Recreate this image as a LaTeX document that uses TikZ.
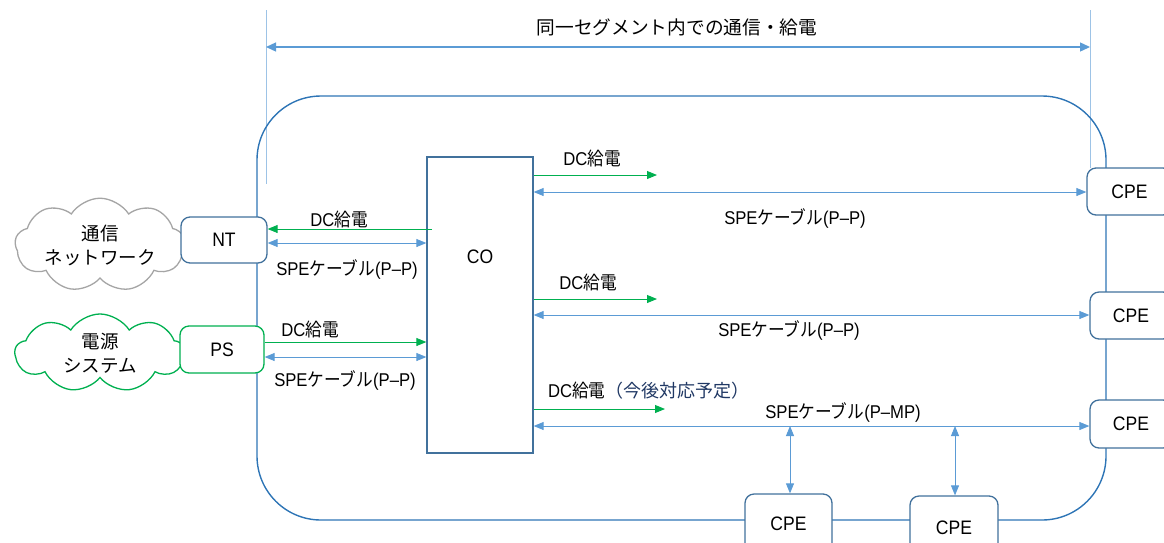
\documentclass[tikz,border=0pt]{standalone}
\usepackage{fontspec}
\setmainfont{Liberation Sans}[FakeStretch=0.9]
\newfontfamily\jpf{Noto Sans CJK JP}[FakeStretch=0.9]
\newfontfamily\jpw{Noto Sans CJK JP}
\newcommand{\J}[1]{{\jpf #1}}
\usetikzlibrary{arrows.meta,shapes.symbols}
\definecolor{bluearr}{HTML}{5B9BD5}
\definecolor{greenarr}{HTML}{00B050}
\definecolor{bigrect}{HTML}{2E75B6}
\definecolor{boxc}{HTML}{41719C}
\definecolor{cloudgray}{HTML}{A5A5A5}
\definecolor{guide}{HTML}{9DC3E6}
\definecolor{navy}{HTML}{203864}
\tikzset{
  lbl/.style={font=\fontsize{18.5}{22}\selectfont, inner sep=0pt},
  devbox/.style={draw=boxc, line width=1.3pt, fill=white, rounded corners=9pt, font=\fontsize{19.5}{22}\selectfont, inner sep=0pt},
  spe/.style={draw=bluearr, line width=0.9pt, {Triangle[length=10pt,width=8pt]}-{Triangle[length=10pt,width=8pt]}},
  dc/.style={draw=greenarr, line width=0.9pt, -{Triangle[length=10pt,width=8pt]}},
  cloudnode/.style={cloud, cloud puffs=9, cloud puff arc=115, aspect=2.3, fill=white, line width=1.3pt, align=center, font=\jpw\fontsize{18.5}{24}\selectfont, minimum width=170pt, minimum height=76pt, inner sep=0pt}
}
\begin{document}
\begin{tikzpicture}[x=1pt,y=-1pt]
\useasboundingbox (0,0) rectangle (1164,542);
\clip (0,0) rectangle (1164,542);
% guide lines and dimension arrow
\coordinate (gL1) at (266,10);
\coordinate (gL2) at (266,184);
\coordinate (gR1) at (1090,10);
\coordinate (gR2) at (1090,168);
\draw[guide, line width=0.6pt] (gL1) -- (gL2);
\draw[guide, line width=0.6pt] (gR1) -- (gR2);
\coordinate (dimL) at (266,47);
\coordinate (dimR) at (1090,47);
\draw[draw=bluearr, line width=1.3pt, {Triangle[length=10pt,width=9pt]}-{Triangle[length=10pt,width=9pt]}] (dimL) -- (dimR);
\node[font=\jpw\fontsize{18.7}{22}\selectfont, inner sep=0pt] (title) at (677,27) {同一セグメント内での通信・給電};
% big rounded rectangle
\draw[draw=bigrect, line width=1.4pt, rounded corners=64pt] (257,96) rectangle (1106,520);
% clouds
\node[cloudnode, draw=cloudgray] (cloudNT) at (100,245) {通信\\ネットワーク};
\node[cloudnode, draw=greenarr] (cloudPS) at (100,353) {電源\\システム};
% boxes
\node[devbox, minimum width=86pt, minimum height=46pt] (NT) at (224,240) {NT};
\node[devbox, draw=greenarr, minimum width=84pt, minimum height=47pt] (PS) at (222,349.5) {PS};
\node[draw=boxc, line width=1.3pt, fill=white, minimum width=106pt, minimum height=296pt, inner sep=0pt] (CO) at (480,305) {};
\node[font=\fontsize{19.5}{22}\selectfont, inner sep=0pt] (COlabel) at (480,257) {CO};
\node[devbox, minimum width=85pt, minimum height=47pt] (CPE1) at (1129.5,191.5) {CPE};
\node[devbox, minimum width=82pt, minimum height=47pt] (CPE2) at (1131,315.5) {CPE};
\node[devbox, minimum width=82pt, minimum height=48pt] (CPE3) at (1131,424) {CPE};
\node[devbox, minimum width=87pt, minimum height=60pt] (CPE4) at (788.5,524) {CPE};
\node[devbox, minimum width=88pt, minimum height=64pt] (CPE5) at (954,528) {CPE};
% left side connectors
\coordinate (dcNTs) at (432,229);
\draw[dc] (dcNTs) -- (NT.east |- dcNTs);
\draw[spe] (NT.east |- 0,243) -- (CO.west |- 0,243);
\draw[dc] (PS.east |- 0,342) -- (CO.west |- 0,342);
\draw[spe] (PS.east |- 0,357) -- (CO.west |- 0,357);
\node[lbl] (l1) at (339,219) {DC\J{給電}};
\node[lbl] (l2) at (347,269) {SPE\J{ケーブル}(P–P)};
\node[lbl] (l3) at (310,329) {DC\J{給電}};
\node[lbl] (l4) at (345,380) {SPE\J{ケーブル}(P–P)};
% right side connectors
\coordinate (dc1e) at (657,175);
\coordinate (dc2e) at (657,299);
\coordinate (dc3e) at (665,409);
\draw[dc] (CO.east |- dc1e) -- (dc1e);
\draw[dc] (CO.east |- dc2e) -- (dc2e);
\draw[dc] (CO.east |- dc3e) -- (dc3e);
\draw[spe] (CO.east |- 0,192) -- (CPE1.west |- 0,192);
\draw[spe] (CO.east |- 0,315) -- (CPE2.west |- 0,315);
\draw[spe] (CO.east |- 0,426) -- (CPE3.west |- 0,426);
\coordinate (tap1) at (790,426);
\coordinate (tap2) at (955,426);
\draw[spe] (tap1) -- (CPE4.north -| tap1);
\draw[spe] (tap2) -- (CPE5.north -| tap2);
\node[lbl] (r1) at (592,158) {DC\J{給電}};
\node[lbl] (r2) at (795,218) {SPE\J{ケーブル}(P–P)};
\node[lbl] (r3) at (588,282) {DC\J{給電}};
\node[lbl] (r4) at (789,330) {SPE\J{ケーブル}(P–P)};
\node[lbl, anchor=west] (r5) at (548,391) {DC\J{給電}\textcolor{navy}{\jpw\fontsize{18}{22}\selectfont （今後対応予定）}};
\node[lbl] (r6) at (843,412) {SPE\J{ケーブル}(P–MP)};
\end{tikzpicture}
\end{document}
